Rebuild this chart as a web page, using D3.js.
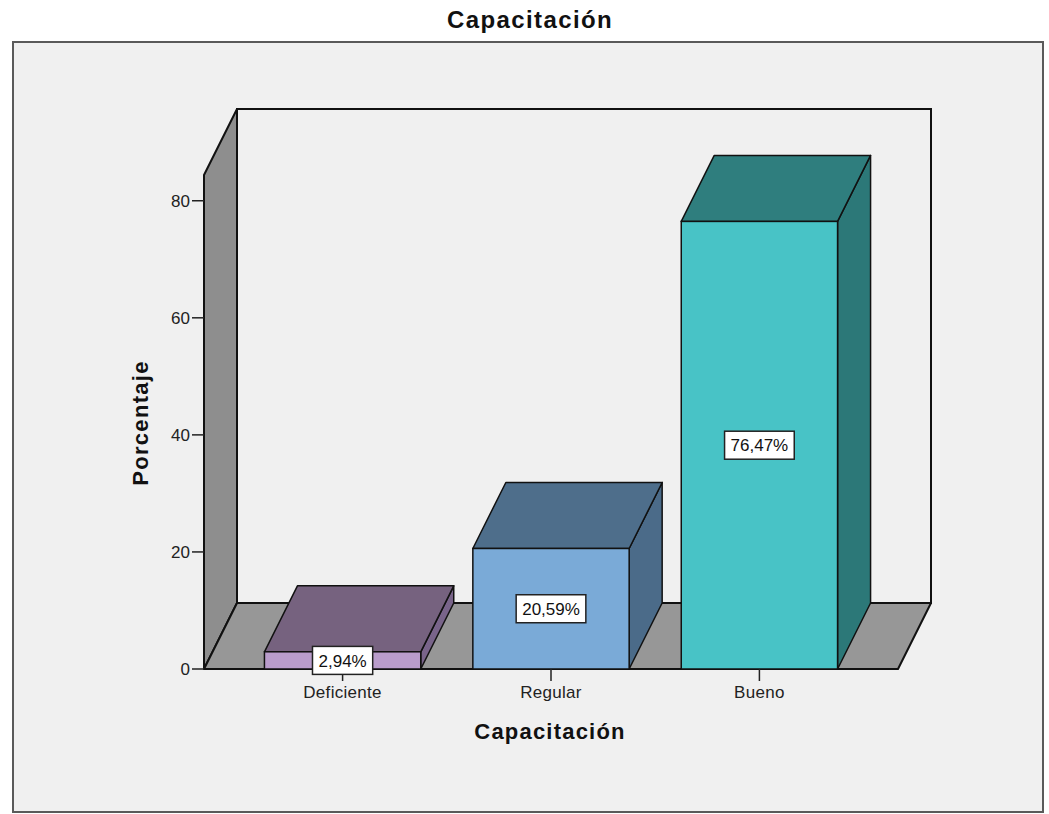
<!DOCTYPE html>
<html>
<head>
<meta charset="utf-8">
<script src="https://cdn.jsdelivr.net/npm/d3@7"></script>
<style>
  html, body { margin: 0; padding: 0; background: #ffffff; }
  svg { display: block; font-family: "Liberation Sans", Arial, sans-serif; }
</style>
</head>
<body>
<svg id="chart" width="1049" height="814"></svg>
<script>
// ---- data ----
const categories = ["Deficiente", "Regular", "Bueno"];
const values = [2.94, 20.59, 76.47];
const valueLabels = ["2,94%", "20,59%", "76,47%"];
const yTicks = [0, 20, 40, 60, 80];
const frontColors = ["#b99ccb", "#7aaad7", "#48c3c6"];
const topColors = ["#76627f", "#4e6e8b", "#2f7e7e"];
const sideColors = ["#79648a", "#4b6b89", "#2c7878"];
const chartTitle = "Capacitación";
const xTitle = "Capacitación";
const yTitle = "Porcentaje";

// ---- layout ----
const W = 1049, H = 814;
const floorLeft = 204, floorRight = 898;
const dx = 33, dy = 66;
const yMax = 84.4;

const svg = d3.select("#chart");

const x = d3.scaleBand().domain(categories).range([floorLeft, floorRight])
  .paddingInner(0.25).paddingOuter(0.29);
const y = d3.scaleLinear().domain([0, yMax]).range([669, 175]);

// outer frame
svg.append("rect").attr("x", 13).attr("y", 42).attr("width", 1030).attr("height", 770)
  .attr("fill", "#f0f0f0").attr("stroke", "#5a5a5a").attr("stroke-width", 2);

// title
svg.append("text").attr("x", 530).attr("y", 28).attr("text-anchor", "middle")
  .attr("font-size", 24).attr("font-weight", "bold").attr("letter-spacing", 1.4)
  .attr("fill", "#111").text(chartTitle);

const y0 = y(0), yTop = y(yMax);
const pts = a => a.map(p => p.join(",")).join(" ");

// back wall
svg.append("rect").attr("x", floorLeft + dx).attr("y", yTop - dy)
  .attr("width", floorRight - floorLeft).attr("height", y0 - yTop)
  .attr("fill", "#f0f0f0").attr("stroke", "#111").attr("stroke-width", 2);

// left wall
svg.append("polygon").attr("points", pts([[floorLeft, yTop], [floorLeft + dx, yTop - dy], [floorLeft + dx, y0 - dy], [floorLeft, y0]]))
  .attr("fill", "#8e8e8e").attr("stroke", "#111").attr("stroke-width", 2).attr("stroke-linejoin", "round");

// floor
svg.append("polygon").attr("points", pts([[floorLeft, y0], [floorRight, y0], [floorRight + dx, y0 - dy], [floorLeft + dx, y0 - dy]]))
  .attr("fill", "#979797").attr("stroke", "#111").attr("stroke-width", 2).attr("stroke-linejoin", "round");

// bars
const bw = x.bandwidth();
const bars = svg.append("g").selectAll("g").data(categories).join("g");
bars.append("polygon").attr("points", (d, i) => {
  const xl = x(d), xr = xl + bw, yt = y(values[i]);
  return pts([[xr, yt], [xr + dx, yt - dy], [xr + dx, y0 - dy], [xr, y0]]);
}).attr("fill", (d, i) => sideColors[i]).attr("stroke", "#111").attr("stroke-width", 1.5).attr("stroke-linejoin", "round");
bars.append("polygon").attr("points", (d, i) => {
  const xl = x(d), xr = xl + bw, yt = y(values[i]);
  return pts([[xl, yt], [xr, yt], [xr + dx, yt - dy], [xl + dx, yt - dy]]);
}).attr("fill", (d, i) => topColors[i]).attr("stroke", "#111").attr("stroke-width", 1.5).attr("stroke-linejoin", "round");
bars.append("rect")
  .attr("x", d => x(d)).attr("y", (d, i) => y(values[i]))
  .attr("width", bw).attr("height", (d, i) => y0 - y(values[i]))
  .attr("fill", (d, i) => frontColors[i]).attr("stroke", "#111").attr("stroke-width", 1.5);

// y axis ticks
const yAx = svg.append("g");
yAx.selectAll("line").data(yTicks).join("line")
  .attr("x1", floorLeft - 12).attr("x2", floorLeft).attr("y1", d => y(d)).attr("y2", d => y(d))
  .attr("stroke", "#222").attr("stroke-width", 1.5);
yAx.selectAll("text").data(yTicks).join("text")
  .attr("x", floorLeft - 14).attr("y", d => y(d)).attr("dy", "0.35em")
  .attr("text-anchor", "end").attr("font-size", 17).attr("fill", "#222").text(d => d);

// x axis ticks
const xAx = svg.append("g");
xAx.selectAll("line").data(categories).join("line")
  .attr("x1", d => x(d) + bw / 2).attr("x2", d => x(d) + bw / 2)
  .attr("y1", y0).attr("y2", y0 + 12).attr("stroke", "#222").attr("stroke-width", 1.5);
xAx.selectAll("text").data(categories).join("text")
  .attr("x", d => x(d) + bw / 2).attr("y", y0 + 29).attr("text-anchor", "middle")
  .attr("font-size", 17).attr("letter-spacing", 0.3).attr("fill", "#222").text(d => d);

// value labels
const lab = svg.append("g").selectAll("g").data(categories).join("g")
  .attr("transform", (d, i) => `translate(${x(d) + bw / 2},${(y(values[i]) + y0) / 2})`);
lab.append("text").attr("text-anchor", "middle").attr("dy", "0.36em")
  .attr("font-size", 17).attr("fill", "#111").text((d, i) => valueLabels[i]);
lab.each(function () {
  const g = d3.select(this);
  const bb = g.select("text").node().getBBox();
  g.insert("rect", "text").attr("x", bb.x - 6).attr("y", -14).attr("width", bb.width + 12).attr("height", 28)
    .attr("fill", "#ffffff").attr("stroke", "#222").attr("stroke-width", 1.5);
});

// axis titles
svg.append("text").attr("x", 550).attr("y", 739).attr("text-anchor", "middle")
  .attr("font-size", 22).attr("font-weight", "bold").attr("letter-spacing", 1.2)
  .attr("fill", "#111").text(xTitle);
svg.append("text").attr("transform", "translate(148,423) rotate(-90)").attr("text-anchor", "middle")
  .attr("font-size", 22).attr("font-weight", "bold").attr("letter-spacing", 1.3)
  .attr("fill", "#111").text(yTitle);
</script>
</body>
</html>
